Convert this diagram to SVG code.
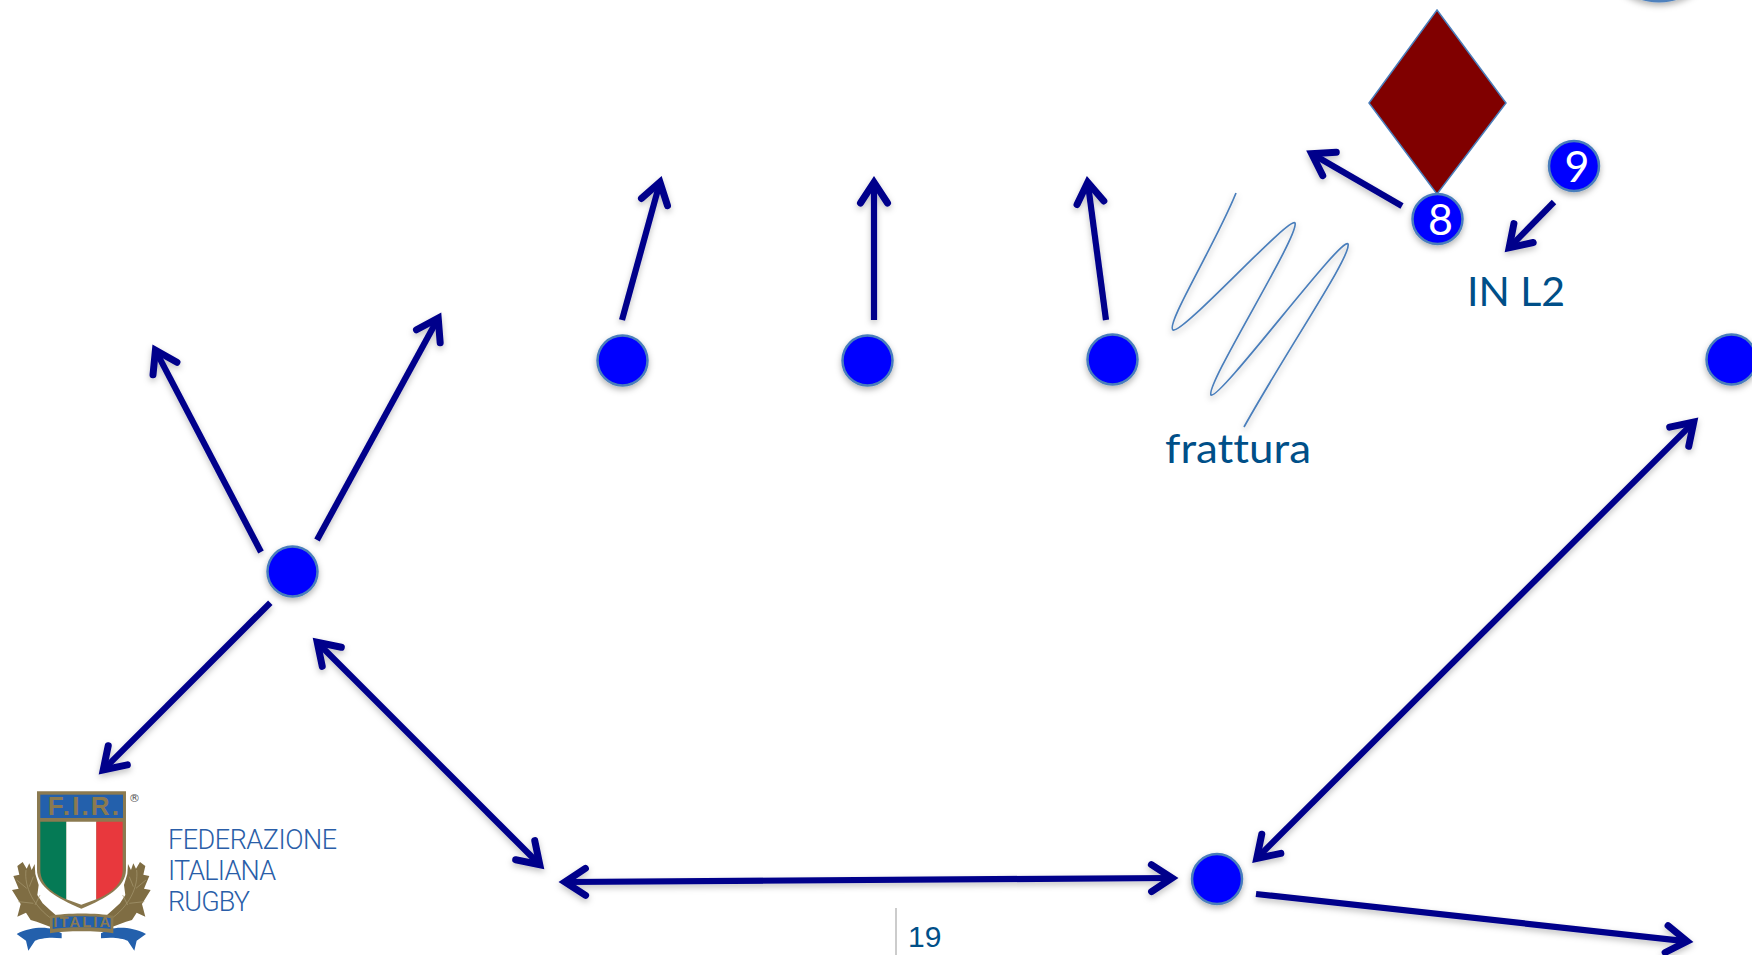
<svg xmlns="http://www.w3.org/2000/svg" width="1752" height="955" viewBox="0 0 1752 955">
<style>
.dot{fill:#0000ff;stroke:#4a7ebb;stroke-width:2.5;filter:url(#sh)}
.num{font-family:Lato,"Liberation Sans",sans-serif;font-size:43px;fill:#fff;text-anchor:middle}
.lbl{font-family:Lato,"Open Sans",sans-serif;font-size:41px;fill:#004f88;font-variant-ligatures:none}
.arr{stroke:#00008b;stroke-width:6.2;fill:none;marker-end:url(#head)}
.both{marker-start:url(#head)}
.fed{font-family:Roboto,"Liberation Sans",sans-serif;font-weight:300;font-size:27px;fill:#2a5ea8}
.gold{fill:#7f6d43}
.vein{fill:none;stroke:#a89a72;stroke-width:2}
.lg{font-family:"Liberation Sans",Arial,sans-serif;font-weight:bold;fill:#8b7a50}
</style>
<defs>
<filter id="sh" x="-40%" y="-40%" width="180%" height="190%"><feDropShadow dx="0" dy="3" stdDeviation="3" flood-color="#000" flood-opacity="0.3"/></filter>
<filter id="lsh" filterUnits="userSpaceOnUse" x="0" y="0" width="1752" height="955"><feDropShadow dx="0" dy="3" stdDeviation="3" flood-color="#000" flood-opacity="0.25"/></filter>
<marker id="head" markerUnits="userSpaceOnUse" markerWidth="60" markerHeight="60" refX="28.5" refY="30" orient="auto-start-reverse" viewBox="0 0 60 60">
<path d="M10,16.5 L30.6,30 L10,43.5" fill="none" stroke="#00008b" stroke-width="7" stroke-linecap="round" stroke-linejoin="miter" stroke-miterlimit="10"/>
</marker>
</defs>
<rect width="1752" height="955" fill="#fff"/>
<g id="connectors" filter="url(#lsh)">
<line class="arr" x1="622" y1="320" x2="659.4" y2="184.2"/>
<line class="arr" x1="874" y1="320" x2="874" y2="184.5"/>
<line class="arr" x1="1106" y1="320" x2="1088" y2="184.4"/>
<line class="arr" x1="261" y1="552" x2="156.4" y2="352.1"/>
<line class="arr" x1="317" y1="540" x2="437.2" y2="320"/>
<line class="arr" x1="270.3" y1="602.7" x2="104.7" y2="768.4"/>
<line class="arr both" x1="318.7" y1="643.7" x2="538.3" y2="863.3"/>
<line class="arr both" x1="567" y1="882" x2="1170" y2="878"/>
<line class="arr both" x1="1258.2" y1="856.9" x2="1692.3" y2="423.6"/>
<line class="arr" x1="1256" y1="894" x2="1685" y2="941.1"/>
<line class="arr" x1="1402" y1="206" x2="1313.5" y2="154.7"/>
<line class="arr" x1="1554" y1="202" x2="1510.6" y2="246.3"/>
</g>
<g id="keeper"><circle cx="1659" cy="-59.5" r="62" fill="#4f81bd" filter="url(#sh)"/></g>
<g id="diamond"><polygon points="1437,10 1506,103 1437,194 1369,103" fill="#800000" stroke="#4a7ebb" stroke-width="1.5"/></g>
<g id="p1"><circle class="dot" cx="622.5" cy="360.5" r="25"/></g>
<g id="p2"><circle class="dot" cx="867.5" cy="360.5" r="25"/></g>
<g id="p3"><circle class="dot" cx="1112.5" cy="359.5" r="25"/></g>
<g id="p4"><circle class="dot" cx="292.5" cy="571.5" r="25"/></g>
<g id="p5"><circle class="dot" cx="1217" cy="879" r="25"/></g>
<g id="p6"><circle class="dot" cx="1731.5" cy="359.5" r="25"/></g>
<g id="p8"><circle class="dot" cx="1437.5" cy="219" r="25"/><text class="num" x="1440.5" y="235">8</text></g>
<g id="p9"><circle class="dot" cx="1574" cy="166" r="25"/><text class="num" x="1577" y="182">9</text></g>
<g id="scribble"><path d="M1236,193 C1215,245 1165,325 1173,330 C1182,335 1290,215 1295,223 C1300,235 1205,385 1211,395 C1220,400 1342,235 1348,244 C1352,255 1290,345 1244,427" fill="none" stroke="#4a7ebb" stroke-width="1.7" filter="url(#sh)"/></g>
<text class="lbl" x="1467" y="306">IN L2</text>
<text class="lbl" x="1165" y="463" textLength="146" lengthAdjust="spacingAndGlyphs">frattura</text>
<g id="pagenum">
<line x1="896" y1="908" x2="896" y2="955" stroke="#bbb" stroke-width="1.5"/>
<text x="908" y="947" font-family="'Liberation Sans',Arial,sans-serif" font-size="30" fill="#004f88">19</text>
</g>
<g id="logo" transform="translate(0,770) scale(0.3333)">
<path class="gold" d="M68,276 L80,296 L88,280 L95,300 L104,282 L106,312 L116,345 L112,375 L128,400 L150,420 L178,445 L150,470 L110,455 L92,450 L78,428 L52,440 L62,402 L36,360 L56,356 L40,318 L58,314 L52,288 Z"/>
<path class="gold" d="M420,276 L408,296 L400,280 L393,300 L384,282 L382,312 L372,345 L376,375 L360,400 L338,420 L310,445 L338,470 L378,455 L396,450 L410,428 L436,440 L426,402 L452,360 L432,356 L448,318 L430,314 L436,288 Z"/>
<path class="vein" d="M78,300 C72,350 100,410 160,450 M50,330 L80,355 M100,320 L88,350 M55,395 L100,400 M120,375 L105,405"/>
<path class="vein" d="M410,300 C416,350 388,410 328,450 M438,330 L408,355 M388,320 L400,350 M433,395 L388,400 M368,375 L383,405"/>
<path d="M50,492 C90,472 130,470 160,478 L185,490 L185,505 C150,500 120,505 105,512 L85,542 L78,512 Z" fill="#2360ac"/>
<path d="M438,492 C398,472 358,470 328,478 L303,490 L303,505 C338,500 368,505 383,512 L403,542 L410,512 Z" fill="#2360ac"/>
<path class="gold" style="fill:#8b7a50" d="M111,64 H378 V300 C378,350 320,385 244,416 C170,385 111,350 111,300Z"/>
<rect x="121" y="74" width="248" height="70" fill="#2360ac"/>
<path d="M121,155 H199 V388 C160,370 121,345 121,300Z" fill="#057a55"/>
<path d="M199,155 H289 V388 L244,404 L199,388Z" fill="#fff"/>
<path d="M289,155 H368 V300 C368,345 330,370 289,388Z" fill="#e8383d"/>
<text class="lg" x="143" y="136" font-size="78" textLength="214" lengthAdjust="spacing">F.I.R.</text>
<path class="gold" style="fill:#8b7a50" d="M150,437 C200,428 290,428 340,437 L340,490 C290,482 200,482 150,490Z"/>
<path d="M158,445 C200,437 290,437 332,445 L332,477 C290,470 200,470 158,477Z" fill="#2360ac"/>
<text class="lg" x="160" y="472" font-size="44" textLength="170" lengthAdjust="spacing">ITALIA</text>
<text x="403" y="97" font-family="'DejaVu Sans',sans-serif" font-size="34" fill="#555" text-anchor="middle">®</text>
</g>
<g id="wordmark">
<text class="fed" x="168" y="849" textLength="169" lengthAdjust="spacing">FEDERAZIONE</text>
<text class="fed" x="168" y="880" textLength="108" lengthAdjust="spacing">ITALIANA</text>
<text class="fed" x="168" y="911" textLength="82" lengthAdjust="spacing">RUGBY</text>
</g>
</svg>
